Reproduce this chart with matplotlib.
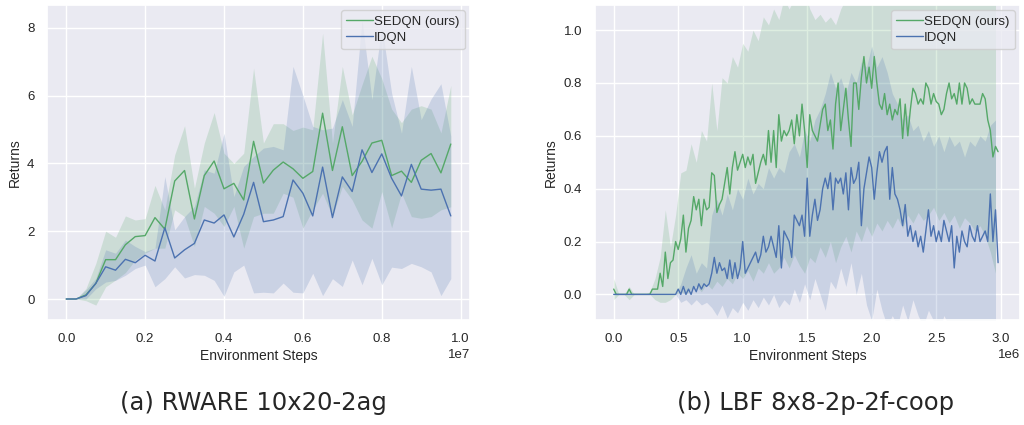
import numpy as np
import matplotlib.pyplot as plt
import seaborn as sns

sns.set_theme(style='darkgrid', color_codes=True)
plt.rcParams['font.family'] = ['Liberation Sans', 'DejaVu Sans']

# RWARE 10x20-2ag: evaluation every 250k steps
rware_steps = np.arange(40) * 250000
rware_sedqn = [0, 0, 0.12, 0.46, 1.16, 1.16, 1.60, 1.84, 1.87, 2.40,
               2.06, 3.48, 3.79, 2.36, 3.64, 4.07, 3.25, 3.41, 2.92, 4.65,
               3.42, 3.80, 4.04, 3.84, 3.56, 3.76, 5.48, 3.79, 5.08, 3.64,
               4.06, 4.60, 4.68, 3.64, 3.77, 3.44, 4.09, 4.29, 3.72, 4.57]
rware_sedqn_hi = [0, 0, 0.31, 1.05, 2.00, 1.82, 2.45, 2.33, 2.37, 3.35,
                  2.63, 4.25, 5.11, 3.27, 4.60, 5.50, 4.30, 4.00, 4.30, 6.81,
                  4.60, 5.17, 5.17, 4.97, 5.07, 4.99, 7.84, 4.60, 6.86, 5.43,
                  6.32, 7.16, 6.50, 5.60, 5.20, 5.60, 5.70, 5.60, 4.90, 6.30]
rware_sedqn_lo = [0, 0, -0.05, -0.18, 0.36, 0.56, 0.78, 1.15, 1.35, 1.50,
                  1.50, 2.63, 2.43, 1.55, 2.73, 2.53, 2.14, 2.73, 1.50, 2.43,
                  2.53, 2.53, 3.12, 3.00, 2.09, 2.63, 3.12, 2.43, 3.32, 2.92,
                  2.33, 2.09, 3.17, 2.10, 3.12, 2.43, 2.38, 2.43, 2.63, 2.72]
rware_idqn = [0, 0, 0.10, 0.46, 0.95, 0.85, 1.17, 1.07, 1.29, 1.12,
              2.10, 1.21, 1.45, 1.64, 2.33, 2.24, 2.48, 1.83, 2.50, 3.44,
              2.28, 2.33, 2.43, 3.51, 3.12, 2.45, 3.89, 2.40, 3.60, 3.17,
              4.40, 3.73, 4.28, 3.56, 3.04, 3.97, 3.24, 3.21, 3.24, 2.45]
rware_idqn_hi = [0, 0, 0.27, 0.61, 1.45, 1.35, 1.74, 1.55, 1.40, 1.50,
                 3.61, 2.04, 2.43, 2.73, 3.81, 3.71, 4.89, 3.02, 3.91, 4.20,
                 4.45, 4.50, 4.40, 6.86, 6.00, 5.09, 4.99, 5.04, 5.88, 5.09,
                 8.22, 5.88, 8.05, 6.07, 4.89, 6.86, 5.29, 5.90, 6.35, 4.80]
rware_idqn_lo = [0, 0, 0, 0.30, 0.50, 0.55, 0.70, 0.90, 1.00, 0.36,
                 0.60, 0.95, 0.62, 0.72, 0.70, 0.55, 0.08, 0.80, 1.00, 0.18,
                 0.20, 0.18, 0.47, 0.20, 0.18, 0.76, 0.10, 0.60, 0.37, 1.15,
                 0.42, 1.20, 0.42, 0.94, 0.90, 1.05, 0.95, 0.80, 0.10, 0.60]

# LBF 8x8-2p-2f-coop: mean curves every 20k steps, spread every 40k steps
lbf_steps = np.arange(150) * 20000
lbf_band_steps = np.arange(75) * 40000
lbf_sedqn = [0.02, 0, 0, 0, 0, 0, 0.02, 0, 0, 0,
             0, 0, 0, 0, 0, 0.02, 0.02, 0.02, 0.08, 0.03,
             0.16, 0.06, 0.12, 0.13, 0.20, 0.17, 0.21, 0.30, 0.16, 0.25,
             0.28, 0.37, 0.32, 0.36, 0.26, 0.36, 0.32, 0.33, 0.46, 0.45,
             0.31, 0.34, 0.36, 0.42, 0.48, 0.38, 0.48, 0.54, 0.47, 0.50,
             0.53, 0.48, 0.52, 0.49, 0.53, 0.42, 0.46, 0.50, 0.53, 0.49,
             0.62, 0.50, 0.62, 0.48, 0.68, 0.58, 0.62, 0.60, 0.62, 0.66,
             0.57, 0.68, 0.60, 0.72, 0.62, 0.48, 0.68, 0.62, 0.60, 0.58,
             0.64, 0.70, 0.72, 0.62, 0.66, 0.55, 0.72, 0.80, 0.62, 0.70,
             0.78, 0.66, 0.56, 0.80, 0.80, 0.70, 0.82, 0.90, 0.80, 0.86,
             0.78, 0.90, 0.80, 0.72, 0.70, 0.76, 0.68, 0.72, 0.66, 0.70,
             0.68, 0.74, 0.59, 0.72, 0.60, 0.70, 0.78, 0.76, 0.72, 0.74,
             0.72, 0.80, 0.78, 0.72, 0.76, 0.73, 0.72, 0.68, 0.70, 0.76,
             0.80, 0.74, 0.76, 0.72, 0.80, 0.72, 0.80, 0.78, 0.72, 0.74,
             0.72, 0.72, 0.72, 0.76, 0.74, 0.66, 0.62, 0.52, 0.56, 0.54]
lbf_idqn = [0, 0, 0, 0, 0, 0, 0, 0, 0, 0,
            0, 0, 0, 0, 0, 0, 0, 0, 0, 0,
            0, 0, 0, 0, 0, 0.02, 0.00, 0.03, 0.00, 0.02,
            0.00, 0.03, 0.01, 0.04, 0.02, 0.04, 0.03, 0.04, 0.08, 0.14,
            0.08, 0.12, 0.09, 0.10, 0.06, 0.13, 0.06, 0.12, 0.06, 0.10,
            0.20, 0.08, 0.10, 0.12, 0.14, 0.16, 0.12, 0.15, 0.22, 0.16,
            0.18, 0.22, 0.18, 0.14, 0.26, 0.10, 0.24, 0.22, 0.20, 0.14,
            0.30, 0.28, 0.26, 0.30, 0.22, 0.44, 0.22, 0.30, 0.36, 0.28,
            0.32, 0.40, 0.44, 0.40, 0.46, 0.32, 0.44, 0.42, 0.44, 0.38,
            0.46, 0.32, 0.48, 0.42, 0.44, 0.50, 0.26, 0.40, 0.46, 0.52,
            0.48, 0.36, 0.46, 0.54, 0.50, 0.54, 0.56, 0.36, 0.48, 0.38,
            0.36, 0.32, 0.26, 0.34, 0.22, 0.26, 0.20, 0.24, 0.18, 0.22,
            0.16, 0.24, 0.32, 0.22, 0.26, 0.20, 0.24, 0.20, 0.28, 0.24,
            0.20, 0.26, 0.10, 0.22, 0.16, 0.24, 0.20, 0.18, 0.26, 0.22,
            0.20, 0.26, 0.20, 0.22, 0.24, 0.20, 0.38, 0.20, 0.32, 0.12]
lbf_sedqn_hi = [0.06, 0, 0, 0.03, 0, 0, 0, 0.01, 0.06, 0.14,
                0.32, 0.18, 0.30, 0.46, 0.47, 0.57, 0.50, 0.62, 0.58, 0.80,
                0.62, 0.82, 0.80, 0.90, 0.86, 0.95, 0.92, 1.00, 0.96, 1.05,
                1.02, 1.08, 1.04, 1.12, 1.08, 1.12, 1.10, 1.15, 1.08, 1.04,
                1.06, 1.03, 1.05, 1.02, 1.08, 1.12, 1.14, 1.18, 1.12, 1.16,
                1.20, 1.15, 1.18, 1.14, 1.10, 1.16, 1.12, 1.18, 1.15, 1.20,
                1.14, 1.17, 1.12, 1.16, 1.19, 1.15, 1.13, 1.18, 1.16, 1.20,
                1.14, 1.17, 1.15, 1.18, 1.16]
lbf_sedqn_lo = [-0.02, 0, 0, -0.02, 0, 0, 0, 0, -0.02, -0.03,
                -0.03, -0.02, 0.00, 0.01, 0.00, 0.02, 0.03, 0.01, 0.04, 0.02,
                0.05, 0.03, 0.06, 0.04, 0.08, 0.06, 0.09, 0.05, 0.10, 0.08,
                0.12, 0.08, 0.10, 0.14, 0.10, 0.15, 0.11, 0.08, 0.14, 0.12,
                0.18, 0.14, 0.20, 0.12, 0.18, 0.22, 0.16, 0.24, 0.20, 0.26,
                0.22, 0.27, 0.24, 0.28, 0.25, 0.29, 0.25, 0.30, 0.27, 0.31,
                0.28, 0.30, 0.33, 0.28, 0.31, 0.27, 0.30, 0.25, 0.29, 0.27,
                0.24, 0.26, 0.22, 0.16, 0.08]
lbf_idqn_hi = [0, 0, 0, 0, 0, 0, 0, 0, 0, 0,
               0, 0, 0, 0.04, 0.10, 0.15, 0.08, 0.12, 0.10, 0.30,
               0.36, 0.30, 0.38, 0.32, 0.40, 0.36, 0.44, 0.38, 0.42, 0.40,
               0.48, 0.44, 0.48, 0.46, 0.54, 0.57, 0.52, 0.62, 0.58, 0.66,
               0.70, 0.76, 0.84, 0.78, 0.82, 0.76, 0.84, 0.80, 0.88, 0.86,
               0.94, 0.86, 0.90, 0.84, 0.76, 0.72, 0.66, 0.68, 0.62, 0.64,
               0.58, 0.62, 0.56, 0.60, 0.54, 0.60, 0.56, 0.58, 0.52, 0.58,
               0.56, 0.60, 0.58, 0.64, 0.66]
lbf_idqn_lo = [0, 0, 0, 0, 0, 0, 0, 0, 0, 0,
               0, 0, 0, -0.03, -0.02, -0.04, -0.02, -0.04, -0.03, -0.05,
               -0.08, -0.04, -0.09, -0.05, -0.07, -0.03, -0.06, -0.02, -0.05, -0.01,
               -0.04, 0.00, -0.05, -0.02, -0.04, 0.02, -0.03, 0.04, -0.02, 0.06,
               0.00, -0.06, 0.05, 0.02, 0.10, 0.03, 0.12, 0.00, 0.08, -0.04,
               -0.10, 0.02, -0.06, -0.12, -0.08, -0.12, -0.04, -0.10, -0.02, -0.08,
               -0.12, -0.06, -0.10, -0.14, -0.08, -0.12, -0.10, -0.14, -0.12, -0.10,
               -0.14, -0.12, -0.10, -0.14, -0.12]

green = 'g'
blue = 'b'

fig = plt.figure(figsize=(10.24, 4.25), dpi=100)
ax1 = fig.add_axes([0.0459, 0.247, 0.4131, 0.7412])
ax2 = fig.add_axes([0.5808, 0.247, 0.4153, 0.7412])

def draw(ax, x, sedqn, idqn, xb, s_lo, s_hi, i_lo, i_hi):
    ax.plot(x, sedqn, color=green, lw=1.0, label='SEDQN (ours)')
    ax.fill_between(xb, s_lo, s_hi, color=green, alpha=0.2, lw=0)
    ax.plot(x, idqn, color=blue, lw=1.0, label='IDQN')
    ax.fill_between(xb, i_lo, i_hi, color=blue, alpha=0.2, lw=0)
    ax.set_xlabel('Environment Steps', fontsize=10, labelpad=3)
    ax.set_ylabel('Returns', fontsize=10)
    ax.tick_params(labelsize=9.5, pad=3)
    ax.xaxis.get_offset_text().set_fontsize(9.5)
    ax.legend(loc='upper right', fontsize=9.5, borderaxespad=0.4,
              handlelength=2.0, handletextpad=0.1, borderpad=0.4,
              labelspacing=0.3)

draw(ax1, rware_steps, rware_sedqn, rware_idqn, rware_steps,
     rware_sedqn_lo, rware_sedqn_hi, rware_idqn_lo, rware_idqn_hi)
ax1.set_xlim(-0.04875e7, 1.02375e7)
ax1.set_ylim(-0.62, 8.67)
ax1.set_yticks([0, 2, 4, 6, 8])

draw(ax2, lbf_steps, lbf_sedqn, lbf_idqn, lbf_band_steps,
     lbf_sedqn_lo, lbf_sedqn_hi, lbf_idqn_lo, lbf_idqn_hi)
ax2.set_xlim(-0.147e6, 3.15e6)
ax2.set_ylim(-0.097, 1.095)
ax2.set_yticks([0.0, 0.2, 0.4, 0.6, 0.8, 1.0])

fig.text(253 / 1024, 1 - 403 / 425, '(a) RWARE 10x20-2ag', ha='center',
         va='center', fontsize=17.5, family='DejaVu Sans')
fig.text(816 / 1024, 1 - 403 / 425, '(b) LBF 8x8-2p-2f-coop', ha='center',
         va='center', fontsize=17.5, family='DejaVu Sans')

fig.savefig('out.png', dpi=100, facecolor='white')
